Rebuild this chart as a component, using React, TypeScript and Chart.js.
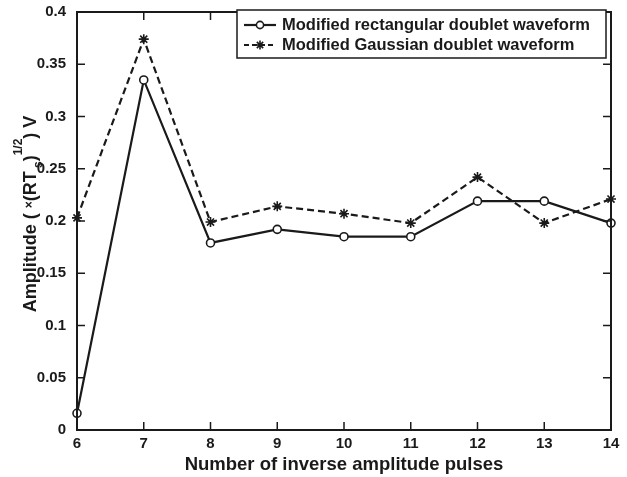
import React, { useEffect, useRef } from 'react';
import { Chart, registerables } from 'chart.js';

Chart.register(...registerables);

const pulses = ['6', '7', '8', '9', '10', '11', '12', '13', '14'];
const rectangular = [0.016, 0.335, 0.179, 0.192, 0.185, 0.185, 0.219, 0.219, 0.198];
const gaussian = [0.203, 0.374, 0.199, 0.214, 0.207, 0.198, 0.242, 0.198, 0.221];
const yMin = 0;
const yMax = 0.4;
const yStep = 0.05;
const seriesNames = ['Modified rectangular doublet waveform', 'Modified Gaussian doublet waveform'];
const xTitle = 'Number of inverse amplitude pulses';

const INK = '#1a1a1a';
const FONT = '"Liberation Sans", Arial, sans-serif';

function drawStar(ctx: CanvasRenderingContext2D, x: number, y: number, r: number) {
  ctx.beginPath();
  for (let i = 0; i < 4; i++) {
    const a = (Math.PI / 4) * i;
    ctx.moveTo(x + Math.cos(a) * r, y + Math.sin(a) * r);
    ctx.lineTo(x - Math.cos(a) * r, y - Math.sin(a) * r);
  }
  ctx.stroke();
}

const framePlugin = {
  id: 'frameAndExtras',
  afterDraw(chart: any) {
    const ctx: CanvasRenderingContext2D = chart.ctx;
    const { left, right, top, bottom } = chart.chartArea;
    const xs = chart.scales.x;
    const ys = chart.scales.y;
    ctx.save();
    ctx.strokeStyle = INK;
    ctx.lineWidth = 2;
    ctx.setLineDash([]);
    ctx.strokeRect(left, top, right - left, bottom - top);
    const tl = 8;
    ctx.lineWidth = 1.5;
    ctx.beginPath();
    ys.ticks.forEach((t: any) => {
      const py = ys.getPixelForValue(t.value);
      ctx.moveTo(left, py); ctx.lineTo(left + tl, py);
      ctx.moveTo(right, py); ctx.lineTo(right - tl, py);
    });
    xs.ticks.forEach((t: any, i: number) => {
      const px = xs.getPixelForTick(i);
      ctx.moveTo(px, bottom); ctx.lineTo(px, bottom - tl);
      ctx.moveTo(px, top); ctx.lineTo(px, top + tl);
    });
    ctx.stroke();

    // x title
    ctx.fillStyle = INK;
    ctx.font = `bold 18.5px ${FONT}`;
    ctx.textAlign = 'center';
    ctx.textBaseline = 'middle';
    ctx.fillText(xTitle, (left + right) / 2, 465);

    // y title with sub/superscripts
    ctx.save();
    ctx.translate(31, 214);
    ctx.rotate(-Math.PI / 2);
    const big = `bold 18px ${FONT}`;
    const small = `bold 12px ${FONT}`;
    const parts: { t: string; f: string; dy: number }[] = [
      { t: 'Amplitude ( ', f: big, dy: 0 },
      { t: '\u00d7', f: small, dy: -1 },
      { t: '(RT', f: big, dy: 0 },
      { t: ' s', f: small, dy: 8 },
      { t: ')', f: big, dy: 0 },
      { t: '1/2', f: small, dy: -12 },
      { t: ') V', f: big, dy: 0 },
    ];
    let total = 0;
    parts.forEach((p) => { ctx.font = p.f; total += ctx.measureText(p.t).width; });
    let cx = -total / 2;
    ctx.textAlign = 'left';
    parts.forEach((p) => {
      ctx.font = p.f;
      ctx.fillText(p.t, cx, p.dy);
      cx += ctx.measureText(p.t).width;
    });
    ctx.restore();

    // legend
    const bx = 237, by = 10, bw = 369, bh = 48;
    ctx.fillStyle = '#ffffff';
    ctx.fillRect(bx, by, bw, bh);
    ctx.strokeStyle = INK;
    ctx.lineWidth = 1.5;
    ctx.strokeRect(bx, by, bw, bh);
    const rows = [25, 45];
    ctx.font = `bold 16.5px ${FONT}`;
    ctx.textAlign = 'left';
    ctx.textBaseline = 'middle';
    rows.forEach((ry, i) => {
      ctx.lineWidth = 2.2;
      ctx.setLineDash(i === 1 ? [5, 3] : []);
      ctx.beginPath();
      ctx.moveTo(244, ry); ctx.lineTo(276, ry);
      ctx.stroke();
      ctx.setLineDash([]);
      ctx.lineWidth = 1.6;
      if (i === 0) {
        ctx.beginPath();
        ctx.arc(260, ry, 3.6, 0, Math.PI * 2);
        ctx.fillStyle = '#fff';
        ctx.fill();
        ctx.stroke();
      } else {
        drawStar(ctx, 260, ry, 4.5);
      }
      ctx.fillStyle = INK;
      ctx.fillText(seriesNames[i], 282, ry);
    });
    ctx.restore();
  },
};

export default function App() {
  const ref = useRef<HTMLCanvasElement>(null);
  useEffect(() => {
    if (!ref.current) return;
    const chart = new Chart(ref.current, {
      type: 'line',
      data: {
        labels: pulses,
        datasets: [
          {
            label: seriesNames[0],
            data: rectangular,
            borderColor: INK,
            borderWidth: 2.2,
            pointStyle: 'circle',
            pointRadius: 4,
            pointBorderWidth: 1.6,
            pointBackgroundColor: '#ffffff',
            pointBorderColor: INK,
            tension: 0,
          },
          {
            label: seriesNames[1],
            data: gaussian,
            borderColor: INK,
            borderWidth: 2.2,
            borderDash: [7, 4],
            pointStyle: 'star',
            pointRadius: 5,
            pointBorderWidth: 1.6,
            pointBackgroundColor: INK,
            pointBorderColor: INK,
            tension: 0,
          },
        ],
      },
      options: {
        responsive: false,
        animation: false,
        layout: { padding: { top: 11, right: 16, left: 0, bottom: 0 } },
        plugins: { legend: { display: false }, tooltip: { enabled: false } },
        scales: {
          x: {
            type: 'category',
            offset: false,
            grid: { display: false },
            border: { display: false },
            ticks: {
              color: INK,
              font: { family: FONT, size: 15, weight: 'bold' },
              padding: -3,
              maxRotation: 0,
              autoSkip: false,
            },
            afterFit: (s: any) => { s.height = 47; },
          },
          y: {
            type: 'linear',
            min: yMin,
            max: yMax,
            grid: { display: false },
            border: { display: false },
            ticks: {
              stepSize: yStep,
              color: INK,
              font: { family: FONT, size: 15, weight: 'bold' },
              padding: 3,
              callback: (v: any) => String(+Number(v).toFixed(2)),
            },
            afterFit: (s: any) => { s.width = 77; },
          },
        },
      },
      plugins: [framePlugin],
    } as any);
    return () => chart.destroy();
  }, []);
  return (
    <div style={{ position: 'absolute', left: 0, top: 0, width: 627, height: 477, background: '#fff' }}>
      <canvas ref={ref} width={627} height={477} />
    </div>
  );
}
